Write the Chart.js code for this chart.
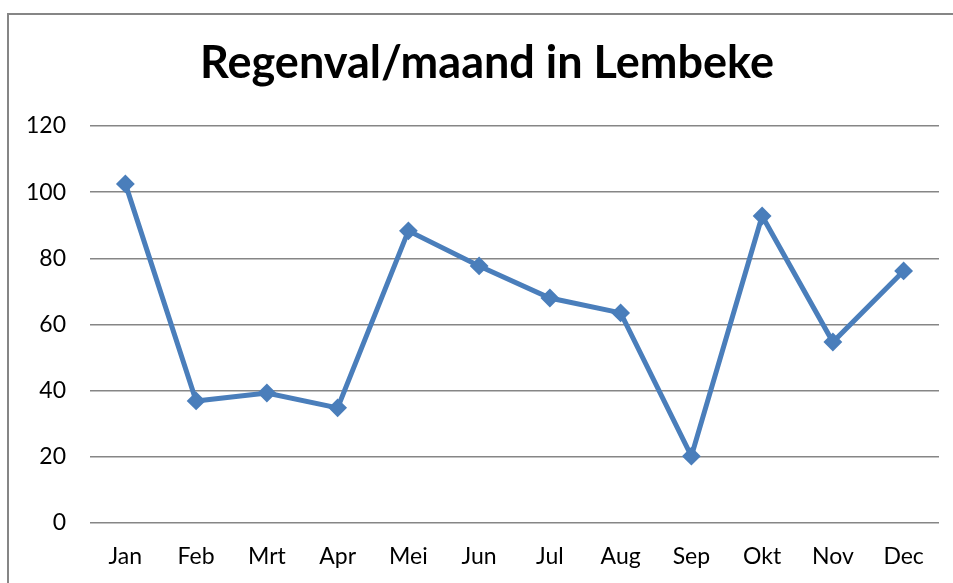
<!DOCTYPE html>
<html>
<head>
<meta charset="utf-8">
<script src="https://cdn.jsdelivr.net/npm/chart.js@4"></script>
<style>
  html, body { margin: 0; padding: 0; background: #fff; overflow: hidden; }
  #wrap { position: relative; width: 953px; height: 583px; }
  #frame { position: absolute; left: 7px; top: 13px; width: 960px; height: 600px; border: 2px solid #868686; box-sizing: border-box; }
  canvas { position: absolute; left: 0; top: 0; }
</style>
</head>
<body>
<div id="wrap">
  <div id="frame"></div>
  <canvas id="rainChart" width="953" height="583"></canvas>
</div>
<script>
const months = ["Jan", "Feb", "Mrt", "Apr", "Mei", "Jun", "Jul", "Aug", "Sep", "Okt", "Nov", "Dec"];
const rainfall = [102.5, 36.9, 39.3, 34.8, 88.3, 77.7, 68, 63.5, 20.2, 92.8, 54.7, 76.2];
const yTicks = [0, 20, 40, 60, 80, 100, 120];
const chartTitle = "Regenval/maand in Lembeke";

const font = "Lato, 'Open Sans', sans-serif";
const blue = "#4A7EBB";
const gridGray = "#868686";

// title is centred on the frame, not on the canvas, so draw it ourselves
const titlePlugin = {
  id: "frameTitle",
  afterDraw(c) {
    const g = c.ctx;
    g.save();
    g.font = "bold 45px " + font;
    g.fillStyle = "#000";
    g.textAlign = "center";
    g.textBaseline = "middle";
    g.fillText(chartTitle, 487, 63);
    g.restore();
  }
};

const ctx = document.getElementById("rainChart").getContext("2d");
const chart = new Chart(ctx, {
  type: "line",
  data: {
    labels: months,
    datasets: [{
      label: "Regenval",
      data: rainfall,
      borderColor: blue,
      backgroundColor: blue,
      borderWidth: 5,
      pointStyle: "rectRot",
      pointRadius: 8,
      pointBorderWidth: 2,
      pointBorderColor: blue,
      pointBackgroundColor: blue,
      tension: 0,
      fill: false
    }]
  },
  plugins: [titlePlugin],
  options: {
    responsive: false,
    animation: false,
    layout: { padding: { left: 0, right: 14, top: 126, bottom: 0 } },
    plugins: {
      legend: { display: false },
      tooltip: { enabled: false },
      title: { display: false }
    },
    scales: {
      x: {
        offset: true,
        grid: { display: false, drawTicks: false },
        border: { display: false },
        ticks: { color: "#000", font: { family: font, size: 23 }, padding: 20, maxRotation: 0 },
        afterFit: s => { s.height = 60; }
      },
      y: {
        min: 0,
        max: 120,
        afterBuildTicks: s => { s.ticks = yTicks.map(v => ({ value: v })); },
        grid: { color: gridGray, lineWidth: 1.5, drawTicks: false },
        border: { display: false },
        ticks: { color: "#000", font: { family: font, size: 23 }, padding: 24 },
        afterFit: s => { s.width = 90; }
      }
    }
  }
});
</script>
</body>
</html>
